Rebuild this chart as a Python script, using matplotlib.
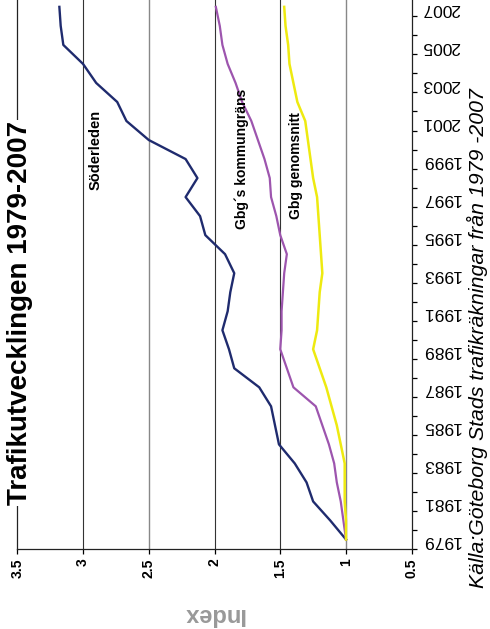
import matplotlib
matplotlib.use("Agg")
import matplotlib.pyplot as plt

# data (index, 1979 = 1)
years = list(range(1979, 2008))
soderleden = [1.00, 1.12, 1.25, 1.30, 1.39, 1.51, 1.54, 1.57, 1.66, 1.85,
              1.89, 1.94, 1.90, 1.88, 1.85, 1.92, 2.07, 2.11, 2.22, 2.13,
              2.22, 2.50, 2.67, 2.74, 2.90, 3.00, 3.15, 3.17, 3.18]
kommungrans = [1.00, 1.02, 1.04, 1.07, 1.09, 1.13, 1.18, 1.23, 1.40, 1.45,
               1.50, 1.49, 1.49, 1.48, 1.47, 1.45, 1.50, 1.53, 1.57, 1.58,
               1.62, 1.67, 1.72, 1.79, 1.84, 1.90, 1.94, 1.96, 1.99]
genomsnitt = [1.00, 1.00, 1.01, 1.01, 1.01, 1.04, 1.07, 1.11, 1.15, 1.20,
              1.25, 1.22, 1.21, 1.20, 1.18, 1.19, 1.20, 1.21, 1.22, 1.25,
              1.27, 1.29, 1.31, 1.37, 1.40, 1.43, 1.44, 1.46, 1.47]
index_ticks = [0.5, 1, 1.5, 2, 2.5, 3, 3.5]
index_labels = ["0.5", "1", "1.5", "2", "2.5", "3", "3.5"]
year_labels = years[::2]

plt.rcParams['font.family'] = ['Liberation Sans', 'DejaVu Sans']

fig = plt.figure(figsize=(4.9, 6.29), dpi=100)
ax = fig.add_axes([0.0353, 0.1272, 0.805, 0.877])

# chart is turned on its side: index runs right-to-left, years bottom-to-top
ax.plot(soderleden, years, color="#1f2b6e", lw=1.7, zorder=3)
ax.plot(kommungrans, years, color="#9d55ae", lw=1.6, zorder=3)
ax.plot(genomsnitt, years, color="#eeea10", lw=1.8, zorder=3)

ax.set_xlim(3.5, 0.5)
ax.set_ylim(1978.5, 2007.5)

ax.set_xticks(index_ticks)
ax.set_xticklabels(index_labels, rotation=90, fontweight="bold", fontsize=10)
ax.tick_params(axis="x", direction="out", length=3.6, width=0.9, pad=3)

ax.yaxis.tick_right()
ax.set_yticks([y - 0.5 for y in years] + [years[-1] + 0.5])
ax.set_yticklabels([])
ax.set_yticks(year_labels, minor=True)
ax.set_yticklabels([str(y) for y in year_labels], minor=True, rotation=180, fontsize=12.5)
ax.tick_params(axis="y", which="major", direction="out", length=3.6, width=0.9)
ax.tick_params(axis="y", which="minor", length=0, pad=7)

for v in index_ticks[1:-1]:
    c = "#888888" if v in (1, 2.5) else "#333333"
    w = 1.0 if v in (1, 2.5) else 0.8
    ax.axvline(v, color=c, lw=w, zorder=1)

ax.spines["top"].set_visible(False)
for s in ("left", "bottom", "right"):
    ax.spines[s].set_linewidth(0.9)
    ax.spines[s].set_color("#222222")

ax.text(2.908, 1999.5, "Söderleden", rotation=90, ha="center", va="center",
        fontsize=10.5, fontweight="bold", zorder=4)
ax.text(1.79, 1999.0, "Gbg´s kommungräns", rotation=90, ha="center", va="center",
        fontsize=10, fontweight="bold", zorder=4)
ax.text(1.38, 1998.65, "Gbg genomsnitt", rotation=90, ha="center", va="center",
        fontsize=10, fontweight="bold", zorder=4)

fig.text(0.041, 0.5024, "Trafikutvecklingen 1979-2007", rotation=90,
         ha="center", va="center", fontsize=20, fontweight="bold",
         family=["Liberation Sans Narrow", "Liberation Sans", "DejaVu Sans"],
         bbox=dict(facecolor="white", edgecolor="none", pad=1), zorder=5)
fig.text(0.4367, 0.0223, "Index", rotation=180, ha="center", va="center",
         fontsize=17, fontweight="bold", color="#999999")
fig.text(0.974, 0.463, "Källa:Göteborg Stads trafikräkningar från 1979 -2007",
         rotation=90, ha="center", va="center", fontsize=15.3, style="italic")

fig.savefig("out.png", dpi=100)
